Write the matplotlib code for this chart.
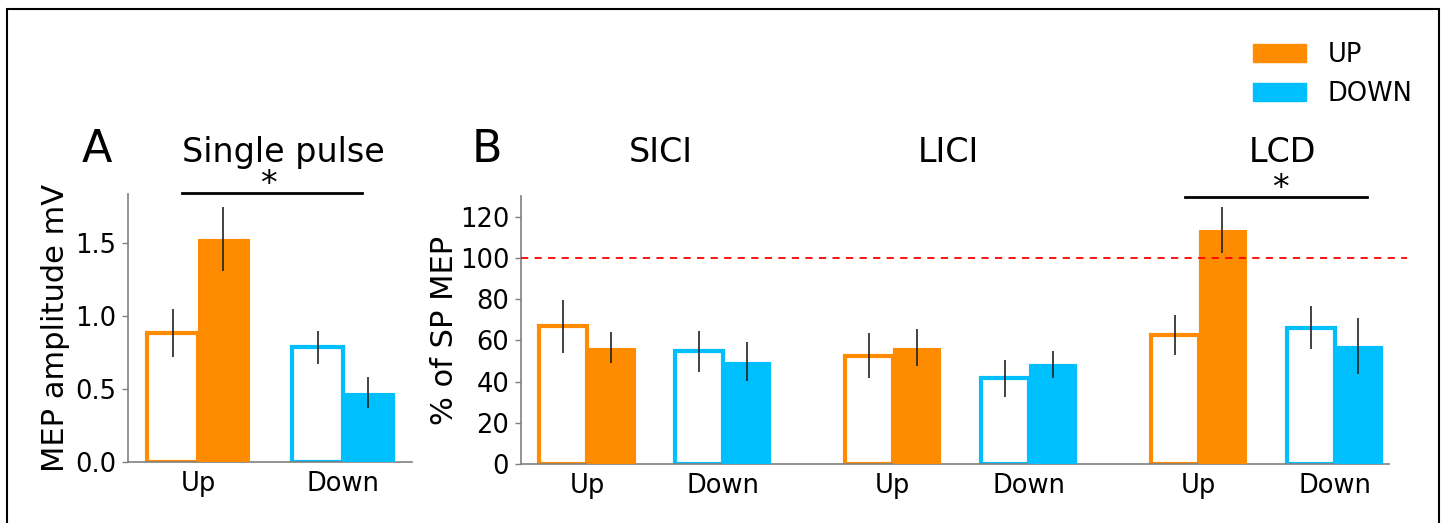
import matplotlib
matplotlib.use("Agg")
import matplotlib.pyplot as plt
from matplotlib.patches import Patch, Rectangle
from matplotlib.lines import Line2D
import numpy as np

plt.rcParams['font.family'] = ['DejaVu Sans']

# ---- data ----
groups_a = ["Up", "Down"]
sp_open = [0.885, 0.785]
sp_open_err = [0.165, 0.115]
sp_fill = [1.53, 0.475]
sp_fill_err = [0.22, 0.105]

protocols = ["SICI", "LICI", "LCD"]
groups_b = ["Up", "Down", "Up", "Down", "Up", "Down"]
pp_open = [66.7, 54.6, 52.6, 41.5, 62.6, 66.2]
pp_open_err = [12.8, 10.0, 11.0, 9.0, 9.7, 10.5]
pp_fill = [56.5, 49.7, 56.5, 48.3, 113.6, 57.3]
pp_fill_err = [7.5, 9.5, 9.0, 6.6, 11.2, 13.6]

legend_labels = ["UP", "DOWN"]
yticks_b = [0, 20, 40, 60, 80, 100, 120]
yticks_a = [0.0, 0.5, 1.0, 1.5]

ORANGE = "#FF8C00"
BLUE = "#00BFFF"
group_colors_a = [ORANGE, BLUE]
group_colors_b = [ORANGE, BLUE, ORANGE, BLUE, ORANGE, BLUE]

W, H = 1444, 523
fig = plt.figure(figsize=(W / 100, H / 100), dpi=100)


def fx(px):
    return px / W


def fy(py):
    return 1 - py / H


SPINE = "#808080"
BW = 0.35
EDGE_LW = 3.0
TICK_FS = 18.5


def style_axes(ax):
    for s in ("top", "right"):
        ax.spines[s].set_visible(False)
    for s in ("left", "bottom"):
        ax.spines[s].set_color(SPINE)
        ax.spines[s].set_linewidth(1.2)
    ax.tick_params(axis="y", colors=SPINE, labelcolor="black", labelsize=TICK_FS,
                   length=4, width=1, pad=4.5)
    ax.tick_params(axis="x", length=0, labelsize=TICK_FS, pad=6.5)


def draw_bars(ax, pos, open_v, open_e, fill_v, fill_e, colors):
    pos = np.asarray(pos, dtype=float)
    for i, p in enumerate(pos):
        ax.bar(p - BW / 2, open_v[i], width=BW, facecolor="white",
               edgecolor=colors[i], linewidth=EDGE_LW, zorder=2)
        ax.bar(p + BW / 2, fill_v[i], width=BW, facecolor=colors[i],
               edgecolor=colors[i], linewidth=0.8, zorder=3)
    ax.errorbar(pos - BW / 2, open_v, yerr=open_e, fmt="none",
                ecolor="#222222", elinewidth=1.2, capsize=0, zorder=4)
    ax.errorbar(pos + BW / 2, fill_v, yerr=fill_e, fmt="none",
                ecolor="#222222", elinewidth=1.2, capsize=0, zorder=4)


# ---- panel A: single pulse amplitude ----
axA = fig.add_axes([fx(128), fy(462), 284 / W, 268 / H])
posA = [0, 1]
draw_bars(axA, posA, sp_open, sp_open_err, sp_fill, sp_fill_err, group_colors_a)
axA.set_xlim(-0.483, 1.476)
axA.set_ylim(0, 1.836)
axA.set_yticks(yticks_a)
axA.set_xticks(posA)
axA.set_xticklabels(groups_a)
style_axes(axA)
axA.set_ylabel("MEP amplitude mV", fontsize=22)
axA.yaxis.set_label_coords(-0.205, 0.5)

# ---- panel B: paired pulse, % of single pulse ----
axB = fig.add_axes([fx(521), fy(464), 868 / W, 268 / H])
posB = [0, 1, 2.25, 3.25, 4.5, 5.5]
draw_bars(axB, posB, pp_open, pp_open_err, pp_fill, pp_fill_err, group_colors_b)
axB.set_xlim(-0.485, 5.9)
axB.set_ylim(0, 130)
axB.set_yticks(yticks_b)
axB.set_xticks(posB)
axB.set_xticklabels(groups_b)
style_axes(axB)
axB.set_ylabel("% of SP MEP", fontsize=22)
axB.yaxis.set_label_coords(-0.072, 0.5)
axB.plot([-0.485, 6.03], [100, 100], ls=(0, (4, 3.5)), color="red",
         lw=1.3, clip_on=False, zorder=5)

# ---- titles and panel letters ----
fig.text(fx(82), fy(162), "A", fontsize=32, ha="left", va="baseline")
fig.text(fx(472), fy(162), "B", fontsize=32, ha="left", va="baseline")
fig.text(fx(283), fy(162), "Single pulse", fontsize=24, ha="center", va="baseline")
for name, cx in zip(protocols, [661, 948, 1282]):
    fig.text(fx(cx), fy(162), name, fontsize=24, ha="center", va="baseline")

# ---- significance markers ----
for x0, x1, ly, sx in [(182, 362, 193, 268), (1185, 1367, 197, 1280)]:
    fig.add_artist(Line2D([fx(x0), fx(x1)], [fy(ly), fy(ly)], color="black",
                          lw=2.0, transform=fig.transFigure))
    fig.text(fx(sx), fy(ly + 1), "*", fontsize=24, ha="center", va="baseline")

# ---- legend ----
handles = [Patch(facecolor=ORANGE, edgecolor=ORANGE, label=legend_labels[0]),
           Patch(facecolor=BLUE, edgecolor=BLUE, label=legend_labels[1])]
fig.legend(handles=handles, loc="upper left", bbox_to_anchor=(fx(1253), fy(42)),
           frameon=False, borderpad=0, borderaxespad=0, handlelength=2.05,
           handleheight=0.72, handletextpad=0.85, labelspacing=0.5, fontsize=18.5)

# ---- outer frame ----
fig.add_artist(Rectangle((fx(7), -0.05), fx(1439) - fx(7), fy(9) + 0.05,
                         fill=False, edgecolor="black", lw=1.5,
                         transform=fig.transFigure))

fig.savefig("out.png", dpi=100)
